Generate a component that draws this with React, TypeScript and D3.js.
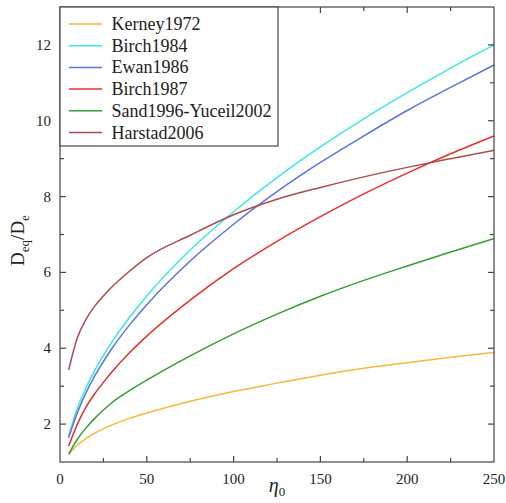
import React, { useRef, useEffect } from "react";
import * as d3 from "d3";

// eta_0 sample positions and values
const ETA = [5, 10, 15, 20, 25, 30, 40, 50, 75, 100, 125, 150, 175, 200, 225, 250];
const KERNEY1972 = [1.2, 1.45, 1.62, 1.76, 1.88, 1.98, 2.15, 2.29, 2.6, 2.86, 3.08, 3.29, 3.47, 3.62, 3.76, 3.89];
const BIRCH1984 = [1.7, 2.42, 2.96, 3.41, 3.81, 4.17, 4.81, 5.38, 6.59, 7.6, 8.5, 9.31, 10.05, 10.74, 11.39, 12.0];
const EWAN1986 = [1.64, 2.3, 2.83, 3.27, 3.65, 4.0, 4.61, 5.15, 6.3, 7.27, 8.13, 8.9, 9.6, 10.27, 10.88, 11.47];
const BIRCH1987 = [1.42, 2.0, 2.45, 2.8, 3.1, 3.38, 3.88, 4.32, 5.27, 6.1, 6.82, 7.47, 8.07, 8.62, 9.13, 9.6];
const SAND_YUCEIL = [1.21, 1.6, 1.9, 2.15, 2.37, 2.57, 2.88, 3.16, 3.8, 4.38, 4.9, 5.37, 5.79, 6.17, 6.54, 6.89];
const HARSTAD2006 = [3.43, 4.28, 4.76, 5.11, 5.38, 5.62, 6.03, 6.39, 6.98, 7.52, 7.93, 8.24, 8.52, 8.77, 9.0, 9.22];

const SERIES = [
  { name: "Kerney1972", values: KERNEY1972, color: "#f5b942" },
  { name: "Birch1984", values: BIRCH1984, color: "#3fe6e6" },
  { name: "Ewan1986", values: EWAN1986, color: "#5b74dc" },
  { name: "Birch1987", values: BIRCH1987, color: "#e8302c" },
  { name: "Sand1996-Yuceil2002", values: SAND_YUCEIL, color: "#3a9a3a" },
  { name: "Harstad2006", values: HARSTAD2006, color: "#a84c4c" },
];

const X_TICKS = [0, 50, 100, 150, 200, 250];
const Y_TICKS = [2, 4, 6, 8, 10, 12];

export default function App() {
  const svgRef = useRef(null);

  useEffect(() => {
    const width = 506;
    const height = 503;
    const margin = { top: 7, right: 12, bottom: 41, left: 60 };
    const axisColor = "#444";
    const font = "'Liberation Serif', 'Tinos', 'DejaVu Serif', serif";

    const svg = d3.select(svgRef.current).attr("width", width).attr("height", height);
    svg.selectAll("*").remove();

    const x = d3.scaleLinear().domain([0, 250]).range([margin.left, width - margin.right]);
    const y = d3.scaleLinear().domain([1, 13]).range([height - margin.bottom, margin.top]);

    const x0 = x.range()[0], x1 = x.range()[1];
    const y0 = y.range()[0], y1 = y.range()[1];

    // curves
    const line = d3
      .line<number>()
      .x((_, i) => x(ETA[i]))
      .y((d) => y(d))
      .curve(d3.curveMonotoneX);

    svg
      .append("g")
      .selectAll("path")
      .data(SERIES)
      .enter()
      .append("path")
      .attr("d", (s) => line(s.values))
      .attr("fill", "none")
      .attr("stroke", (s) => s.color)
      .attr("stroke-width", 1.5);

    // frame + inward ticks on all four sides
    const frame = svg.append("g").attr("stroke", axisColor).attr("stroke-width", 1.2);
    frame
      .append("rect")
      .attr("x", x0)
      .attr("y", y1)
      .attr("width", x1 - x0)
      .attr("height", y0 - y1)
      .attr("fill", "none");

    d3.range(25, 250, 25).forEach((t) => {
      const len = t % 50 === 0 ? 6 : 4;
      frame.append("line").attr("x1", x(t)).attr("x2", x(t)).attr("y1", y0).attr("y2", y0 - len);
      frame.append("line").attr("x1", x(t)).attr("x2", x(t)).attr("y1", y1).attr("y2", y1 + len);
    });
    d3.range(2, 13, 1).forEach((t) => {
      const len = t % 2 === 0 ? 6 : 4;
      frame.append("line").attr("x1", x0).attr("x2", x0 + len).attr("y1", y(t)).attr("y2", y(t));
      frame.append("line").attr("x1", x1).attr("x2", x1 - len).attr("y1", y(t)).attr("y2", y(t));
    });

    // tick labels
    svg
      .append("g")
      .selectAll("text")
      .data(X_TICKS)
      .enter()
      .append("text")
      .attr("x", (d) => x(d))
      .attr("y", y0 + 22)
      .attr("text-anchor", "middle")
      .attr("font-family", font)
      .attr("font-size", 15)
      .attr("fill", "#222")
      .text((d) => d);

    svg
      .append("g")
      .selectAll("text")
      .data(Y_TICKS)
      .enter()
      .append("text")
      .attr("x", x0 - 9)
      .attr("y", (d) => y(d) + 5)
      .attr("text-anchor", "end")
      .attr("font-family", font)
      .attr("font-size", 15)
      .attr("fill", "#222")
      .text((d) => d);

    // axis titles
    const xt = svg
      .append("text")
      .attr("x", (x0 + x1) / 2)
      .attr("y", height - 11)
      .attr("text-anchor", "middle")
      .attr("font-family", font)
      .attr("font-size", 20)
      .attr("fill", "#222");
    xt.append("tspan").attr("font-style", "italic").text("η");
    xt.append("tspan").attr("dy", 4).attr("font-size", 13).text("0");

    const yt = svg
      .append("text")
      .attr("transform", `translate(24, ${(y0 + y1) / 2 + 6}) rotate(-90)`)
      .attr("text-anchor", "middle")
      .attr("font-family", font)
      .attr("font-size", 19)
      .attr("fill", "#222");
    yt.append("tspan").text("D");
    yt.append("tspan").attr("dy", 5).attr("font-size", 13).text("eq");
    yt.append("tspan").attr("dy", -5).text("/D");
    yt.append("tspan").attr("dy", 5).attr("font-size", 13).text("e");

    // legend
    const legend = svg.append("g");
    legend
      .append("rect")
      .attr("x", x0)
      .attr("y", y1)
      .attr("width", 218)
      .attr("height", 139)
      .attr("fill", "white")
      .attr("stroke", axisColor)
      .attr("stroke-width", 1.2);

    SERIES.forEach((s, i) => {
      const ly = 24 + i * 21.7;
      legend
        .append("line")
        .attr("x1", 69)
        .attr("x2", 102)
        .attr("y1", ly)
        .attr("y2", ly)
        .attr("stroke", s.color)
        .attr("stroke-width", 1.5);
      legend
        .append("text")
        .attr("x", 111.5)
        .attr("y", ly + 6)
        .attr("font-family", font)
        .attr("font-size", 18)
        .attr("fill", "#222")
        .text(s.name);
    });
  }, []);

  return <svg ref={svgRef} style={{ position: "absolute", left: 0, top: 0 }}></svg>;
}
